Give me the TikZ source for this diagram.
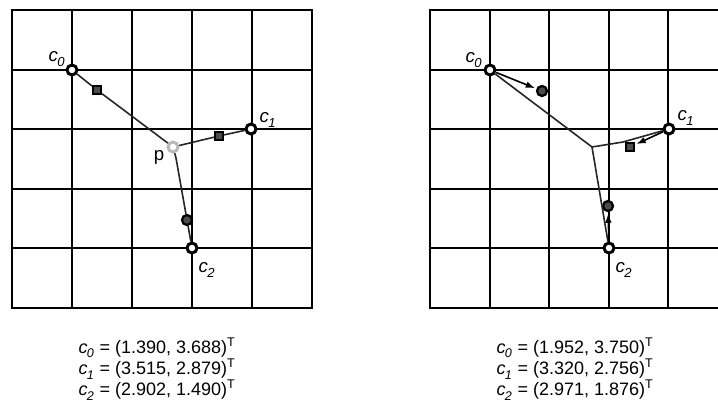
\documentclass[tikz,border=0pt]{standalone}
\usepackage{fontspec}
\setmainfont{Liberation Sans}
\usetikzlibrary{arrows.meta}
\newcommand{\csub}[1]{\textit{c}\textsubscript{\kern-0.05em\raisebox{-0.25ex}{\textit{#1}}}}
\begin{document}
\begin{tikzpicture}[x=0.75pt,y=-0.75pt,
  gridline/.style={line width=1.5pt},
  pathline/.style={line width=1.2pt, black!85},
  ring/.style={circle, draw=black, fill=white, line width=2.2pt, inner sep=0pt, minimum size=7.5pt},
  gring/.style={ring, draw=gray!55},
  sqmark/.style={rectangle, draw=black, fill=gray!60!black, line width=1.7pt, inner sep=0pt, minimum size=6pt},
  dotmark/.style={circle, draw=black, fill=gray!60!black, line width=1.7pt, inner sep=0pt, minimum size=7.5pt},
  vec/.style={line width=1.2pt, -{Latex[length=7pt,width=5pt]}, shorten >=1pt},
  lbl/.style={font=\fontsize{14}{16}\selectfont, inner sep=0pt},
  eqs/.style={font=\fontsize{13.5}{16}\selectfont, align=left, inner sep=0pt}
]
\useasboundingbox (0,0) rectangle (718,410);
% left grid
\draw[gridline] (12,10) rectangle (312,308);
\foreach \i in {1,...,4} {
  \draw[gridline] ({12+60*\i},10) -- ({12+60*\i},308);
  \draw[gridline] (12,{10+59.6*\i}) -- (312,{10+59.6*\i});
}
% right grid
\draw[gridline] (718,10) -- (430,10) -- (430,308) -- (718,308);
\foreach \i in {1,...,4} {
  \draw[gridline] ({430+59.6*\i},10) -- ({430+59.6*\i},308);
  \draw[gridline] (430,{10+59.6*\i}) -- (718,{10+59.6*\i});
}
% left markers
\node[ring] (c0L) at (72,70) {};
\node[ring] (c1L) at (251,129) {};
\node[ring] (c2L) at (192,248) {};
\node[gring] (pL) at (173,147) {};
\node[sqmark] (q0L) at (97,90) {};
\node[sqmark] (q1L) at (219,136) {};
\node[dotmark] (q2L) at (187,220) {};
\coordinate (bL) at (176,158);
\draw[pathline] (c0L) -- (q0L) -- (pL);
\draw[pathline] (pL) -- (q1L) -- (c1L);
\draw[pathline] (pL) -- (bL) -- (q2L) -- (c2L);
% right markers
\node[ring] (c0R) at (490,70) {};
\node[ring] (c1R) at (669,129) {};
\node[ring] (c2R) at (609,248) {};
\node[dotmark] (m0R) at (542,91) {};
\node[sqmark] (m1R) at (630,147) {};
\node[dotmark] (m2R) at (608,206) {};
\coordinate (jR) at (592,147);
\coordinate (kR) at (623,142);
\draw[pathline] (c0R) -- (jR) -- (kR) -- (c1R);
\draw[pathline] (jR) -- (c2R);
\draw[vec] (c0R) -- (m0R);
\draw[vec] (c1R) -- (m1R);
\draw[vec] (c2R) -- (m2R);
% labels
\node[lbl] (t0L) at (57,59) {\csub{0}};
\node[lbl] (t1L) at (268,120) {\csub{1}};
\node[lbl] (t2L) at (207,270) {\csub{2}};
\node[lbl] (tpL) at (159,157) {p};
\node[lbl] (t0R) at (474,60) {\csub{0}};
\node[lbl] (t1R) at (686,118) {\csub{1}};
\node[lbl] (t2R) at (624,270) {\csub{2}};
% equations
\node[eqs] (eqL) at (157,369) {\csub{0} = (1.390, 3.688)\textsuperscript{T}\\ \csub{1} = (3.515, 2.879)\textsuperscript{T}\\ \csub{2} = (2.902, 1.490)\textsuperscript{T}};
\node[eqs] (eqR) at (575,369) {\csub{0} = (1.952, 3.750)\textsuperscript{T}\\ \csub{1} = (3.320, 2.756)\textsuperscript{T}\\ \csub{2} = (2.971, 1.876)\textsuperscript{T}};
\end{tikzpicture}
\end{document}
